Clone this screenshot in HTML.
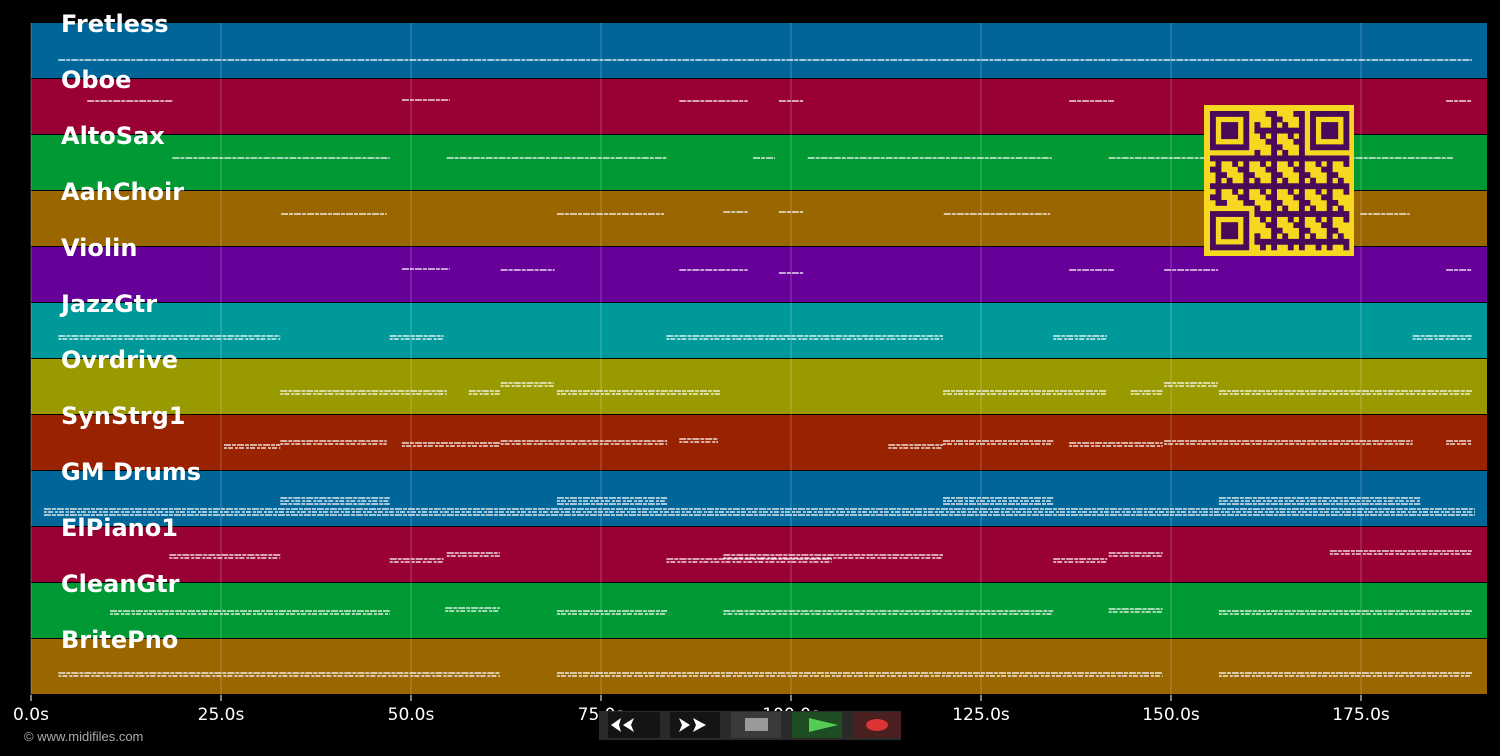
<!DOCTYPE html>
<html><head><meta charset="utf-8"><style>
body{margin:0;background:#000;width:1500px;height:756px;overflow:hidden;font-family:"Liberation Sans","DejaVu Sans",sans-serif}
svg{display:block}
</style></head><body>
<svg id="chart" width="1500" height="756" xmlns="http://www.w3.org/2000/svg">
<rect width="1500" height="756" fill="#000"/>
<g id="rows"></g><g id="grid"></g><g id="notes"></g><g id="labels"></g><g id="xaxis"></g><g id="qr"></g>
<text x="24" y="741" fill="#aaa" font-size="13">© www.midifiles.com</text>
<g>
<rect x="599" y="711" width="302" height="29" fill="#2a2a2a"/>
<rect x="608" y="712" width="52" height="26" fill="#141414" rx="2"/>
<path d="M611 725 L621 718 L619 725 L621 732 Z M623 725 L634 718 L631 725 L634 732 Z" fill="#fff"/>
<rect x="670" y="712" width="50" height="26" fill="#141414" rx="2"/>
<path d="M679 718 L690 725 L679 732 L682 725 Z M693 718 L706 725 L693 732 L696 725 Z" fill="#fff"/>
<rect x="731" y="712" width="50" height="26" fill="#3a3a3a"/>
<rect x="745" y="718" width="23" height="13" fill="#999"/>
<rect x="792" y="712" width="50" height="26" fill="#1e4d24"/>
<path d="M809 718 L838 725 L809 732 Z" fill="#5c5"/>
<rect x="853" y="712" width="48" height="26" fill="#4a1f1f"/>
<ellipse cx="877" cy="725" rx="11" ry="6" fill="#d33"/>
</g>
</svg>
<script>
const NS='http://www.w3.org/2000/svg';
const trackNames=['Fretless','Oboe','AltoSax','AahChoir','Violin','JazzGtr','Ovrdrive','SynStrg1','GM Drums','ElPiano1','CleanGtr','BritePno'];
const trackColors=['#006699','#990033','#009933','#996600','#660099','#009999','#999900','#992200','#006699','#990033','#009933','#996600'];
const xTicks=[0,25,50,75,100,125,150,175];
const tickLabels=['0.0s','25.0s','50.0s','75.0s','100.0s','125.0s','150.0s','175.0s'];
// note segments per track: [start s, end s, pitch offset px]
const segFretless=[[3.6,189.6,0]];
const segOboe=[[7.4,18.6,0],[48.8,55.1,-1],[85.3,94.3,0],[98.4,101.6,0],[136.6,142.5,0],[186.2,189.6,0]];
const segAltoSax=[[18.6,47.2,0],[54.7,83.6,0],[95,97.9,0],[102.2,134.3,0],[141.8,187.1,0]];
const segAahChoir=[[32.9,46.8,0],[69.2,83.3,0],[91.1,94.3,-2],[98.4,101.6,-2],[120.1,134.1,0],[174.9,181.4,0]];
const segViolin=[[48.8,55.1,-1],[61.8,68.9,0],[85.3,94.3,0],[98.4,101.6,3],[136.6,142.5,0],[149.1,156.2,0],[186.2,189.6,0]];
const segJazzGtr=[[3.6,32.8,0],[47.2,54.3,0],[83.6,120,0],[134.5,141.6,0],[181.8,189.6,0]];
const segOvrdrive=[[32.8,54.7,0],[57.6,61.7,0],[61.8,68.8,-8],[69.2,90.7,0],[120,141.6,0],[144.7,148.9,0],[149.1,156.2,-8],[156.3,189.6,0]];
const segSynStrg1=[[25.4,32.8,4],[32.8,46.8,0],[48.8,61.7,2],[61.8,83.7,0],[85.3,90.4,-2],[112.8,120,4],[120,134.5,0],[136.6,148.9,2],[149.1,181.8,0],[186.2,189.6,0]];
const segDrums=[[1.7,190,8],[32.8,47.2,-3],[69.2,83.7,-3],[120,134.5,-3],[156.3,182.8,-3]];
const segElPiano=[[18.2,32.8,0],[47.2,54.3,4],[54.7,61.7,-2],[83.6,105.4,4],[91.1,120,0],[134.5,141.6,4],[141.8,148.9,-2],[170.9,189.6,-4]];
const segCleanGtr=[[10.4,47.2,0],[54.5,61.7,-3],[69.2,83.7,0],[91.1,134.5,0],[141.8,148.9,-2],[156.3,189.6,0]];
const segBritePno=[[3.6,61.7,0],[69.2,148.9,0],[156.3,189.6,0]];
const allSegs=[segFretless,segOboe,segAltoSax,segAahChoir,segViolin,segJazzGtr,segOvrdrive,segSynStrg1,segDrums,segElPiano,segCleanGtr,segBritePno];
const noteYOffset=[37,22,23,23,23,33,32,26,30,28,28,34];
const lineCount=[1,1,1,1,1,2,2,2,3,2,2,2];

const X0=31,X1=1487,T1=(X1-X0)/7.6;
const xs=t=>X0+t*(X1-X0)/T1;
const rowY=i=>23+56*i;
function el(tag,attrs,parent){const e=document.createElementNS(NS,tag);for(const k in attrs)e.setAttribute(k,attrs[k]);parent.appendChild(e);return e;}
const G=id=>document.getElementById(id);

trackNames.forEach((n,i)=>{
  const r=el('rect',{x:X0,y:rowY(i),width:X1-X0,height:55,fill:trackColors[i]},G('rows'));
  
  
  const t=el('text',{x:61,y:rowY(i)+9,fill:'#fff','font-size':24,'font-weight':'bold','font-family':'"DejaVu Sans",sans-serif'},G('labels'));
  t.textContent=n;
  
  
  allSegs[i].forEach(s=>{
    for(let k=0;k<lineCount[i];k++){
      const y=rowY(i)+noteYOffset[i]+s[2]+k*3;
      const l=el('line',{x1:xs(s[0]),x2:xs(s[1]),y1:y,y2:y,stroke:'#fff','stroke-opacity':0.85,'stroke-width':1.4,'stroke-dasharray':k%2?'3 1 5 2':'7 1 4 1'},G('notes'));
      
      
    }
  });
});
xTicks.forEach((v,i)=>{
  const x=xs(v);
  const g=el('line',{x1:x,x2:x,y1:23,y2:695,stroke:'#fff','stroke-opacity':0.25,'stroke-width':1},G('grid'));
  
  
  const tk=el('line',{x1:x,x2:x,y1:695,y2:701,stroke:'#fff'},G('xaxis'));
  
  
  const t=el('text',{x:x,y:720,fill:'#fff','font-size':17,'text-anchor':'middle','font-family':'"DejaVu Sans",sans-serif'},G('xaxis'));
  t.textContent=tickLabels[i];
  
  
});
// QR decoration
(function(){
  const q=G('qr'),ox=1210,oy=111,m=5.56;
  el('rect',{x:1204,y:105,width:150,height:151,fill:'#f5d81f'},q);
  const fin=(r,c)=>{for(const [rr,cc] of [[0,0],[0,18],[18,0]]){const a=r-rr,b=c-cc;if(a>=0&&a<7&&b>=0&&b<7){return (a==0||a==6||b==0||b==6||(a>=2&&a<=4&&b>=2&&b<=4))?1:0;}if(a>=-1&&a<=7&&b>=-1&&b<=7)return 0;}return -1;};
  for(let r=0;r<25;r++)for(let c=0;c<25;c++){
    let f=fin(r,c),on=f>=0?f:(((r*7+c*11+r*c*3)%5)<2?1:0);
    if(on)el('rect',{x:ox+c*m,y:oy+r*m,width:m+0.3,height:m+0.3,fill:'#4a0a5a'},q);
  }
})();
</script>
</body></html>
